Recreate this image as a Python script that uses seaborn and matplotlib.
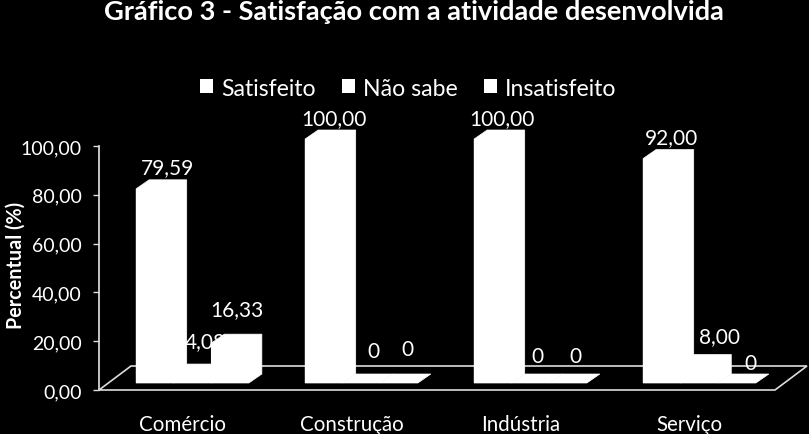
import matplotlib
matplotlib.use("Agg")
import matplotlib.pyplot as plt
import pandas as pd
import seaborn as sns
from matplotlib.patches import Polygon

categories = ["Comércio", "Construção", "Indústria", "Serviço"]
satisfeito = [79.59, 100.00, 100.00, 92.00]
nao_sabe = [4.08, 0, 0, 8.00]
insatisfeito = [16.33, 0, 0, 0]
series_names = ["Satisfeito", "Não sabe", "Insatisfeito"]
y_ticks = [0, 20, 40, 60, 80, 100]

# label offsets from the back top centre of each bar, in pixels (manual chart placement)
label_offsets = {
    "Satisfeito": [(6, 13), (4, 12), (3, 12), (3, 12)],
    "Não sabe": [(6, 23), (5, 23), (0, 18), (14, 18)],
    "Insatisfeito": [(0, 25), (2, 25), (1, 18), (7, 11)],
}

W, H = 809, 435
sns.set_theme(style="dark", rc={"axes.facecolor": "black", "figure.facecolor": "black",
                                "savefig.facecolor": "black", "text.color": "white",
                                "axes.labelcolor": "white", "xtick.color": "white",
                                "ytick.color": "white", "axes.edgecolor": "#dddddd"})
plt.rcParams["font.family"] = ["Lato", "DejaVu Sans"]

fig = plt.figure(figsize=(W / 100, H / 100), dpi=100)
L, R, B, T = 99, 775, 391, 147
ax = fig.add_axes([L / W, 1 - B / H, (R - L) / W, (B - T) / H])

df = pd.DataFrame({"categoria": categories * 3,
                   "serie": [s for s in series_names for _ in categories],
                   "valor": satisfeito + nao_sabe + insatisfeito})

px_x = (R - L) / 4  # pixels per category
px_y = (B - T) / 100  # pixels per percent
base = 7 / px_y  # front of bars stands in front of the axis plane
dx, dy = 13 / px_x, 9 / px_y

sns.barplot(data=df, x="categoria", y="valor", hue="serie", hue_order=series_names,
            order=categories, palette=["white"] * 3, width=0.667, gap=0, saturation=1,
            linewidth=0, errorbar=None, ax=ax, zorder=5)

x0 = -93.5 / px_x
ax.set_xlim(x0, x0 + 4)
ax.set_ylim(0, 100)

# floor of the 3D plot
fx, fy = 32 / px_x, 24 / px_y
xa, xb = ax.get_xlim()
ax.add_patch(Polygon([(xa, 0), (xb, 0), (xb + fx, fy), (xa + fx, fy)], closed=True, fill=False,
                     edgecolor="#dddddd", lw=1.2, clip_on=False, zorder=2))

# bars: seaborn containers -> add the 3D top and side faces + labels
for k, (cont, name) in enumerate(zip(ax.containers, series_names)):
    z = 5 + 2 * k
    for j, bar in enumerate(cont):
        bar.set_y(base)
        bx, bw = bar.get_x(), bar.get_width()
        top = base + bar.get_height()
        bar.set_zorder(z)
        bar.set_clip_on(False)
        ax.add_patch(Polygon([(bx, base), (bx, top), (bx + dx, top + dy), (bx + bw + dx, top + dy),
                              (bx + bw + dx, base + dy), (bx + bw, base)],
                             closed=True, facecolor="white", edgecolor="white", lw=0.5,
                             clip_on=False, zorder=z))
        val = bar.get_height()
        txt = "0" if val == 0 else f"{val:.2f}".replace(".", ",")
        ox, oy = label_offsets[name][j]
        ax.annotate(txt, (bx + bw / 2 + dx / 2, top + dy), xytext=(ox * 0.72, oy * 0.72),
                    textcoords="offset points", ha="center", va="center", fontsize=15,
                    color="white", annotation_clip=False, zorder=z - 1)

ax.set_yticks(y_ticks)
ax.set_yticklabels([f"{v:.2f}".replace(".", ",") for v in y_ticks], fontsize=14)
ax.set_xticks([i - 10 / px_x for i in range(4)])
ax.set_xticklabels(categories, fontsize=14.8)
ax.tick_params(axis="x", length=0, pad=17)
ax.tick_params(axis="y", length=4.5, width=1, color="#dddddd", left=True, pad=8)
ax.set_xlabel("")
ax.set_ylabel("Percentual (%)", fontsize=14.2, fontweight="bold", labelpad=-3.5, y=0.515)
ax.grid(False)
for side in ("top", "right"):
    ax.spines[side].set_visible(False)
ax.spines["bottom"].set_visible(False)
ax.spines["left"].set_color("#dddddd")

handles, labels = ax.get_legend_handles_labels()
ax.legend(handles, labels, ncol=3, loc="center", bbox_to_anchor=(408.5 / W, 1 - 89 / H),
          bbox_transform=fig.transFigure, frameon=False, fontsize=16.6, handlelength=0.57,
          handleheight=0.57, handletextpad=0.35, columnspacing=1.13, borderpad=0, labelcolor="white")

fig.text(414 / W, 1 - 12 / H, "Gráfico 3 - Satisfação com a atividade desenvolvida",
         ha="center", va="center", fontsize=19.6, fontweight="bold", color="white")

fig.savefig("out.png", dpi=100)
